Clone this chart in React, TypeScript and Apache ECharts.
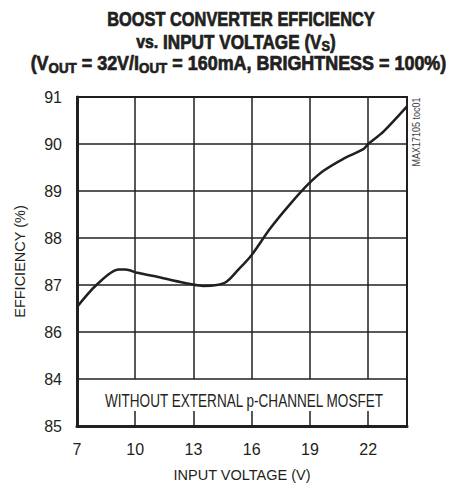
import React, { useEffect, useRef } from "react";
import * as echarts from "echarts";

const FONT = "'Liberation Sans', Arial, sans-serif";
const INK = "#231f20";

const xTicks = [7, 10, 13, 16, 19, 22];
const yTickValues = [84, 85, 86, 87, 88, 89, 90, 91];
const yTickLabels = ["85", "84", "86", "87", "88", "89", "90", "91"];

const voltage = [7, 8.0, 9.15, 9.5, 10.1, 10.95, 11.8, 12.85, 13.5, 14.2, 14.7, 15.25, 16.0, 16.95, 18.0, 18.95, 19.7, 20.7, 21.75, 22.0, 22.8, 24.0];
const efficiency = [86.53, 87.0, 87.33, 87.33, 87.26, 87.19, 87.11, 87.02, 86.98, 87.0, 87.07, 87.3, 87.64, 88.2, 88.73, 89.16, 89.43, 89.68, 89.89, 90.0, 90.27, 90.8];

const titleLine1 = "BOOST CONVERTER EFFICIENCY";
const titleLine2 = "{s|vs.} INPUT VOLTAGE (V{sub|S})";
const titleLine3 = "(V{sub|OUT} = 32V/I{sub|OUT} = 160mA, BRIGHTNESS = 100%)";
const annotation = "WITHOUT EXTERNAL p-CHANNEL MOSFET";
const watermark = "MAX17105 toc01";

export default function App() {
  const ref = useRef<HTMLDivElement>(null);
  useEffect(() => {
    document.body.style.margin = "0";
    const chart = echarts.init(ref.current!, null, { renderer: "svg" });
    const titleStyle = {
      fontFamily: FONT,
      fontWeight: "bold",
      fontSize: 19.5,
      fill: INK,
      stroke: INK,
      lineWidth: 0.7,
      align: "center",
      verticalAlign: "middle",
      rich: {
        sub: { fontFamily: FONT, fontWeight: "bold", fontSize: 14.5, padding: [9, 0, 0, 0] },
        s: { fontFamily: FONT, fontWeight: "bold", fontSize: 18 },
      },
    };
    chart.setOption({
      animation: false,
      grid: {
        left: 77,
        right: 46,
        top: 97,
        bottom: 58,
        show: true,
        borderColor: INK,
        borderWidth: 2,
        containLabel: false,
      },
      xAxis: {
        type: "value",
        min: 7,
        max: 24,
        interval: 3,
        name: "INPUT VOLTAGE (V)",
        nameLocation: "middle",
        nameGap: 41,
        nameTextStyle: { fontFamily: FONT, fontSize: 14.5, color: INK },
        axisLine: { show: true, lineStyle: { color: INK, width: 3 } },
        axisTick: { show: true, inside: true, length: 15, lineStyle: { color: INK, width: 1.5 } },
        splitLine: { show: false },
        axisLabel: {
          fontFamily: FONT,
          fontSize: 16,
          color: INK,
          margin: 15,
          formatter: (v: number) => (xTicks.includes(v) ? String(v) : ""),
        },
      },
      yAxis: {
        type: "value",
        min: 84,
        max: 91,
        interval: 1,
        name: "EFFICIENCY (%)",
        nameLocation: "middle",
        nameGap: 50,
        nameTextStyle: { fontFamily: FONT, fontSize: 14.5, color: INK },
        axisLine: { show: true, lineStyle: { color: INK, width: 3 } },
        axisTick: { show: false },
        splitLine: { show: true, lineStyle: { color: INK, width: 1.5 } },
        axisLabel: {
          fontFamily: FONT,
          fontSize: 16,
          color: INK,
          margin: 15,
          formatter: (v: number) => {
            const i = yTickValues.indexOf(v);
            return i >= 0 ? yTickLabels[i] : "";
          },
        },
      },
      series: [
        {
          type: "line",
          data: voltage.map((v, i) => [v, efficiency[i]]),
          smooth: 0.3,
          showSymbol: false,
          lineStyle: { color: INK, width: 2.5 },
          markLine: {
            silent: true,
            symbol: "none",
            label: { show: false },
            lineStyle: { color: INK, width: 1.5, type: "solid" },
            data: xTicks.slice(1).map((x) => [{ coord: [x, 85] }, { coord: [x, 91] }]),
          },
        },
      ],
      graphic: [
        { type: "text", x: 241, y: 20, scaleX: 0.84, style: { ...titleStyle, text: titleLine1 } },
        { type: "text", x: 236, y: 42, scaleX: 0.88, style: { ...titleStyle, text: titleLine2 } },
        { type: "text", x: 238.5, y: 63, scaleX: 0.92, style: { ...titleStyle, text: titleLine3 } },
        {
          type: "text",
          x: 244,
          y: 401,
          scaleX: 0.775,
          style: { text: annotation, fontFamily: FONT, fontSize: 17.5, fill: INK, align: "center", verticalAlign: "middle" },
        },
        {
          type: "text",
          x: 416,
          y: 132,
          rotation: Math.PI / 2,
          scaleX: 0.9,
          style: { text: watermark, fontFamily: FONT, fontSize: 10, fill: "#444", align: "center", verticalAlign: "middle" },
        },
      ],
    });
    return () => chart.dispose();
  }, []);
  return <div ref={ref} style={{ width: 453, height: 487 }} />;
}
